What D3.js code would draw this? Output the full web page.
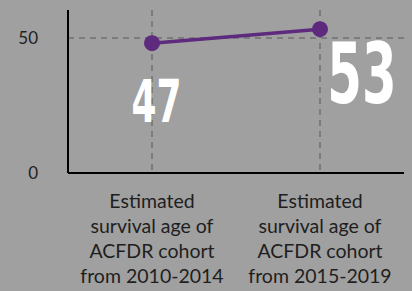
<!DOCTYPE html>
<html>
<head>
<meta charset="utf-8">
<script src="https://cdn.jsdelivr.net/npm/d3@7"></script>
<style>
  html, body { margin: 0; padding: 0; background: #a0a0a0; }
  #wrapper { width: 412px; height: 291px; }
</style>
</head>
<body>
<div id="wrapper"></div>
<script>
// data
const categories = [
  ["Estimated", "survival age of", "ACFDR cohort", "from 2010-2014"],
  ["Estimated", "survival age of", "ACFDR cohort", "from 2015-2019"]
]
const values = [48.1, 53.3]
const valueLabels = ["47", "53"]
const yTicks = [0, 50]

function drawChart() {
  let dimensions = {
    width: 412,
    height: 291,
    margin: { top: 10, right: 8, bottom: 118, left: 68 }
  }
  dimensions.boundedWidth = dimensions.width - dimensions.margin.left - dimensions.margin.right
  dimensions.boundedHeight = dimensions.height - dimensions.margin.top - dimensions.margin.bottom

  const wrapper = d3.select("#wrapper")
    .append("svg")
      .attr("width", dimensions.width)
      .attr("height", dimensions.height)

  wrapper.append("rect")
      .attr("width", dimensions.width)
      .attr("height", dimensions.height)
      .attr("fill", "#a0a0a0")

  const bounds = wrapper.append("g")
      .attr("transform", `translate(${dimensions.margin.left},${dimensions.margin.top})`)

  // scales
  const xScale = d3.scalePoint()
      .domain(d3.range(categories.length))
      .range([0, dimensions.boundedWidth])
      .padding(0.5)

  const yScale = d3.scaleLinear()
      .domain([0, 60.4])
      .range([dimensions.boundedHeight, 0])

  // grid
  bounds.selectAll(".vgrid")
      .data(d3.range(categories.length))
    .enter().append("line")
      .attr("x1", d => xScale(d))
      .attr("x2", d => xScale(d))
      .attr("y1", 0)
      .attr("y2", dimensions.boundedHeight)
      .attr("stroke", "#707070")
      .attr("stroke-width", 1.5)
      .attr("stroke-dasharray", "6,5")

  bounds.selectAll(".hgrid")
      .data(yTicks.filter(d => d > 0))
    .enter().append("line")
      .attr("x1", 0)
      .attr("x2", dimensions.boundedWidth)
      .attr("y1", d => yScale(d))
      .attr("y2", d => yScale(d))
      .attr("stroke", "#707070")
      .attr("stroke-width", 1.5)
      .attr("stroke-dasharray", "6,5")

  // axes
  const yAxis = bounds.append("g")
      .call(d3.axisLeft(yScale).tickValues(yTicks).tickSize(0).tickPadding(30))
  yAxis.select(".domain").remove()
  yAxis.selectAll("text")
      .attr("fill", "#222")
      .style("font-family", "Lato")
      .style("font-size", "17px")

  bounds.append("line")
      .attr("x1", 0).attr("x2", 0)
      .attr("y1", 0).attr("y2", dimensions.boundedHeight)
      .attr("stroke", "#000").attr("stroke-width", 2)
  bounds.append("line")
      .attr("x1", 0).attr("x2", dimensions.boundedWidth)
      .attr("y1", dimensions.boundedHeight).attr("y2", dimensions.boundedHeight)
      .attr("stroke", "#000").attr("stroke-width", 2)

  // x category labels
  const catLabels = bounds.selectAll(".cat")
      .data(categories)
    .enter().append("text")
      .attr("x", (d, i) => xScale(i))
      .attr("y", dimensions.boundedHeight + 35)
      .attr("text-anchor", "middle")
      .attr("fill", "#1e1e1e")
      .style("font-family", "Lato")
      .style("font-size", "19.5px")
  catLabels.selectAll("tspan")
      .data((d, i) => d.map(t => ({ t, i })))
    .enter().append("tspan")
      .attr("x", d => xScale(d.i))
      .attr("dy", (d, j) => j === 0 ? 0 : 25)
      .text(d => d.t)

  // line and dots
  const line = d3.line()
      .x((d, i) => xScale(i))
      .y(d => yScale(d))

  bounds.append("path")
      .datum(values)
      .attr("d", line)
      .attr("fill", "none")
      .attr("stroke", "#5e2a7e")
      .attr("stroke-width", 3.5)

  bounds.selectAll("circle")
      .data(values)
    .enter().append("circle")
      .attr("cx", (d, i) => xScale(i))
      .attr("cy", d => yScale(d))
      .attr("r", 8)
      .attr("fill", "#5e2a7e")

  // big value labels (condensed look via horizontal squeeze)
  const labelStyle = [
    { dx: 4.5, y: 122, size: 58, sx: 0.62 },
    { dx: 42, y: 103, size: 83, sx: 0.6 }
  ]
  bounds.selectAll(".val")
      .data(valueLabels)
    .enter().append("text")
      .attr("transform", (d, i) =>
        `translate(${xScale(i) + labelStyle[i].dx},${labelStyle[i].y - dimensions.margin.top}) scale(${labelStyle[i].sx},1)`)
      .attr("text-anchor", "middle")
      .attr("fill", "#fff")
      .style("font-family", "'DejaVu Sans', sans-serif")
      .style("font-weight", "bold")
      .style("font-size", (d, i) => labelStyle[i].size + "px")
      .text(d => d)
}
drawChart()
</script>
</body>
</html>
